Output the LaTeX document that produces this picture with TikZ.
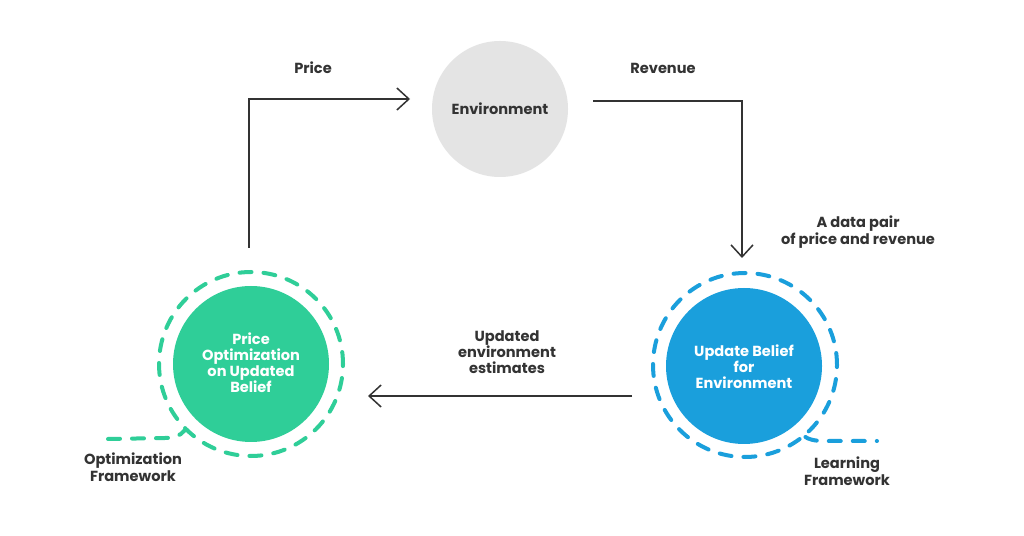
\documentclass[tikz,border=0pt]{standalone}
\usepackage{fontspec}
\setmainfont{Poppins}
\usetikzlibrary{arrows.meta}
\definecolor{tealg}{HTML}{2FCE98}
\definecolor{blueb}{HTML}{1A9FDC}
\definecolor{envg}{HTML}{E4E4E4}
\definecolor{linec}{HTML}{333333}
\begin{document}
\begin{tikzpicture}[x=1pt,y=1pt,
  lbl/.style={font=\fontsize{14.6}{17.5}\selectfont\bfseries, text=linec, align=center, inner sep=0pt},
  inlbl/.style={font=\fontsize{14.6}{16}\selectfont\bfseries, text=white, align=center, inner sep=0pt},
  flow/.style={draw=linec, line width=1.5pt, -{Straight Barb[length=12pt,width=22pt,line width=1.5pt]}},
  ring/.style={line width=4pt, line cap=round, dash pattern=on 12pt off 12pt}
]
\useasboundingbox[fill=white] (0,0) rectangle (1024,535);
% circles
\node[circle, fill=envg, minimum size=136pt, inner sep=0pt] (env) at (500,426) {};
\node[lbl] at (500,426) {Environment};
\node[circle, fill=tealg, minimum size=156pt, inner sep=0pt] (opt) at (251,171) {};
\node[circle, fill=blueb, minimum size=156pt, inner sep=0pt] (upd) at (744,169) {};
\node[inlbl] at (251,172) {Price\\Optimization\\on Updated\\Belief};
\node[inlbl] at (744,168) {Update Belief\\for\\Environment};
% dashed rings with tails
\node[circle, ring, draw=tealg, minimum size=184pt, inner sep=0pt] (optring) at (251,171) {};
\node[circle, ring, draw=blueb, minimum size=184pt, inner sep=0pt] (updring) at (745,170) {};
\coordinate (otail) at (108,96);
\draw[ring, draw=tealg] (otail) -- (165,97) .. controls (174,97) and (180,99) .. (optring.225);
\coordinate (btail) at (877,94);
\draw[ring, draw=blueb] (updring.-50) .. controls (808,96) and (814,94) .. (824,94) -- (btail);
% connectors
\coordinate (s1) at (249,287);
\coordinate (c1) at (249,436);
\coordinate (e1) at (410,436);
\coordinate (s2) at (593,434);
\coordinate (c2) at (742,434);
\coordinate (e2) at (742,277);
\coordinate (s3) at (632,139);
\coordinate (e3) at (368,139);
\draw[flow] (s1) -- (c1) -- (e1);
\draw[flow] (s2) -- (c2) -- (e2);
\draw[flow] (s3) -- (e3);
% labels
\node[lbl] at (313,467) {Price};
\node[lbl] at (663,467) {Revenue};
\node[lbl] at (858,303) {A data pair\\of price and revenue};
\node[lbl, font=\fontsize{14.6}{16}\selectfont\bfseries] at (507,183) {Updated\\environment\\estimates};
\node[lbl] at (133,68) {Optimization\\Framework};
\node[lbl] at (847,64) {Learning\\Framework};
\end{tikzpicture}
\end{document}
